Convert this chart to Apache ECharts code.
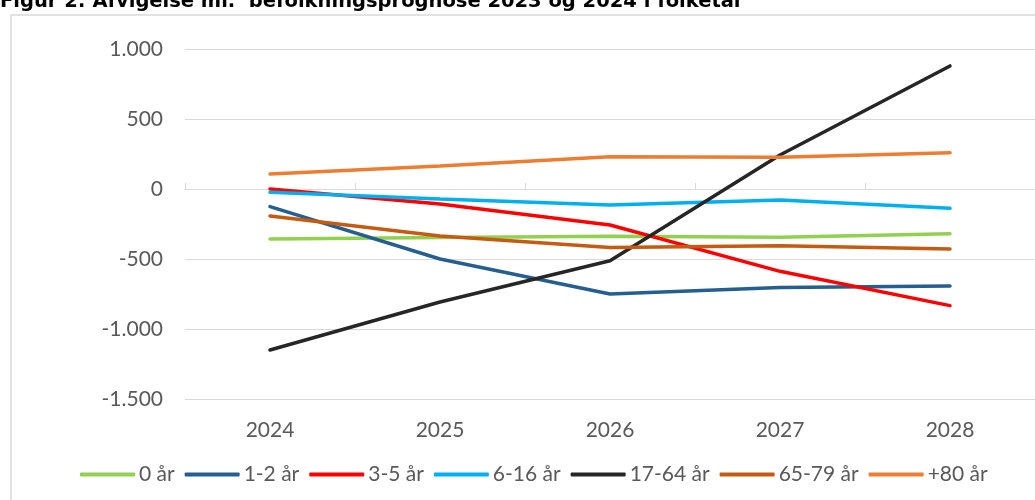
<!DOCTYPE html>
<html>
<head>
<meta charset="utf-8">
<script src="https://cdn.jsdelivr.net/npm/echarts@6/dist/echarts.min.js"></script>
<style>
  html, body { margin: 0; padding: 0; background: #fff; }
  #main { width: 1035px; height: 500px; }
</style>
</head>
<body>
<div id="main"></div>
<script>
// Afvigelse ml. befolkningsprognose 2023 og 2024 i folketal
var years = ["2024", "2025", "2026", "2027", "2028"];
var yTicks = [-1500, -1000, -500, 0, 500, 1000];

var aar0 = [-357, -347, -337, -345, -320];
var aar1_2 = [-126, -500, -750, -703, -693];
var aar3_5 = [0, -107, -257, -588, -833];
var aar6_16 = [-24, -71, -114, -79, -138];
var aar17_64 = [-1150, -807, -512, 243, 879];
var aar65_79 = [-193, -336, -417, -405, -429];
var aar80 = [107, 164, 231, 226, 259];

var seriesNames = ["0 år", "1-2 år", "3-5 år", "6-16 år", "17-64 år", "65-79 år", "+80 år"];
var seriesData = [aar0, aar1_2, aar3_5, aar6_16, aar17_64, aar65_79, aar80];
var colors = ["#92d050", "#255e91", "#ff0000", "#00b0f0", "#262626", "#c55a11", "#ed7d31"];

function fmtThousand(v) {
	var s = String(Math.abs(v)).replace(/\B(?=(\d{3})+(?!\d))/g, ".");
	return (v < 0 ? "-" : "") + s;
}

var series = [];
for (var i = 0; i < seriesNames.length; i++) {
	series.push({
		name: seriesNames[i],
		type: "line",
		data: seriesData[i],
		symbol: "none",
		smooth: false,
		lineStyle: { width: 3.5, color: colors[i], cap: "round" },
		itemStyle: { color: colors[i] }
	});
}

var myChart = echarts.init(document.getElementById("main"));
var option = {
	animation: false,
	color: colors,
	graphic: [
		{
			type: "rect",
			shape: { x: 11, y: 15, width: 1200, height: 700 },
			style: { fill: "none", stroke: "#d9d9d9", lineWidth: 1.5 },
			silent: true
		},
		{
			type: "text",
			left: 0,
			top: -8,
			style: {
				text: "Figur 2: Afvigelse ml.  befolkningsprognose 2023 og 2024 i folketal",
				font: "900 19.5px 'DejaVu Sans'",
				fill: "#000"
			}
		}
	],
	legend: {
		bottom: 10,
		left: 75,
		itemWidth: 55,
		itemHeight: 4,
		itemGap: 10,
		icon: "roundRect",
		textStyle: { fontFamily: "Lato", fontSize: 21, color: "#595959", padding: [0, 0, 0, -1] },
		data: seriesNames
	},
	grid: { left: 185, top: 49, width: 862, bottom: 101, containLabel: false },
	xAxis: [
		{
			type: "category",
			data: years,
			boundaryGap: true,
			axisLine: { show: false, onZero: false },
			axisTick: { show: false },
			axisLabel: { fontFamily: "Lato", fontSize: 21, color: "#595959", margin: 21 }
		},
		{
			type: "category",
			data: years,
			boundaryGap: true,
			axisLine: { show: true, onZero: true, lineStyle: { color: "#d9d9d9", width: 1 } },
			axisTick: { show: true, length: 6, lineStyle: { color: "#d9d9d9" } },
			axisLabel: { show: false }
		}
	],
	yAxis: {
		type: "value",
		min: -1500,
		max: 1000,
		interval: 500,
		axisLine: { show: false },
		axisTick: { show: false },
		splitLine: { lineStyle: { color: "#d9d9d9", width: 1 } },
		axisLabel: {
			fontFamily: "Lato", fontSize: 21, color: "#595959", margin: 22,
			formatter: function (v) { return fmtThousand(v); }
		}
	},
	series: series
};
myChart.setOption(option);
</script>
</body>
</html>
